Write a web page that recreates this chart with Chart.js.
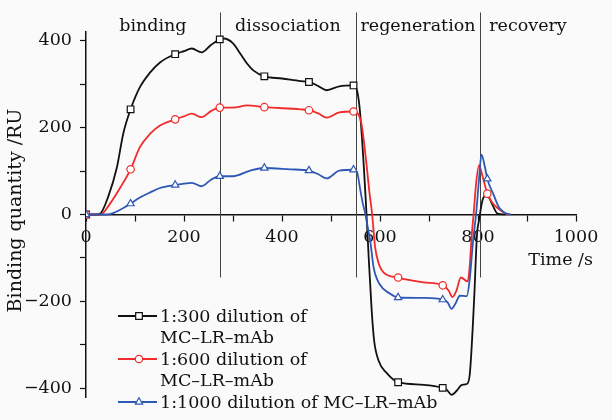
<!DOCTYPE html>
<html><head><meta charset="utf-8">
<script src="https://cdn.jsdelivr.net/npm/chart.js@4.4.1/dist/chart.umd.min.js"></script>
<style>html,body{margin:0;padding:0;background:#fafafa;}#wrap{width:612px;height:420px;}</style>
</head><body><div id="wrap"><canvas id="c" width="612" height="420"></canvas></div>
<script>
// ---- data ----
const blackT = [0,20,29,45,63,76,91,110,131,151,182,200,216,236,255,273,281,300,315,329,342,364,400,438,455,475,491,517,546,552,558,563,567,571,577,583,588,597,613,637,689,728,736,746,757,767,777,783,792,798,802,809,816,822,830,840,855];
const blackV = [0,0,2,40,108,186,242,293,327,350,369,376,382,373,390,403,405,394,370,347,331,318,313,307,305,295,286,295,297,290,250,180,110,32,-100,-220,-290,-336,-364,-386,-392,-399,-403,-415,-405,-392,-390,-370,-198,-45,-14,32,44,40,21,2,0];
const redT = [0,29,49,70,91,110,131,151,182,200,216,236,255,273,300,329,364,438,455,475,491,517,546,556,562,568,573,578,584,590,598,607,637,689,728,740,748,756,765,779,783,787,791,796,802,810,819,830,843,855,865];
const redV = [0,0,25,62,104,155,186,205,219,226,232,224,238,246,246,251,247,242,240,232,223,235,237,230,210,160,110,55,0,-75,-115,-133,-145,-156,-163,-175,-190,-175,-145,-154,-120,-50,0,70,113,85,48,26,12,3,0];
const blueT = [0,40,49,63,91,110,131,151,182,200,216,236,255,273,300,335,364,417,455,475,491,517,546,553,560,565,570,575,580,587,599,620,637,689,728,738,746,754,763,777,783,790,796,802,807,814,819,832,843,855,867];
const blueV = [0,0,1,7,25,39,51,61,68,71,73,65,80,88,88,101,107,104,101,92,83,101,103,98,55,25,2,-30,-60,-122,-160,-182,-191,-192,-196,-202,-217,-205,-187,-188,-150,-60,0,80,138,110,82,45,16,4,0];
const markerTimes = [0,91,182,273,364,455,546,637,728,819];
const blackMarkerTimes = [0,91,182,273,364,455,546,637,728];
const seriesLabels = [['1:300 dilution of','MC\u2013LR\u2013mAb'],['1:600 dilution of','MC\u2013LR\u2013mAb'],['1:1000 dilution of MC\u2013LR\u2013mAb']];
const phaseNames = ['binding','dissociation','regeneration','recovery'];
const phaseBounds = [273,551,804];
const xTickValues = [0,100,200,300,400,500,600,700,800,900,1000];
const yTickValues = [-400,-300,-200,-100,0,100,200,300,400];
const yTitle = 'Binding quantity /RU';
const xTitle = 'Time /s';

const FONT = "'DejaVu Serif', serif";
const pts = (T,V) => T.map((t,i)=>({x:t,y:V[i]}));

function mkSet(label, T, V, color, style, r, mk, order){
  return {label, data: pts(T,V), borderColor: color, borderWidth: 1.8,
    pointStyle: style, pointBackgroundColor: '#ffffff', pointBorderColor: color,
    pointBorderWidth: 1.2, order,
    pointRadius: c => (c.raw && mk.includes(c.raw.x)) ? r : 0,
    pointHoverRadius: 0, cubicInterpolationMode: 'monotone', fill: false};
}

function drawMarker(ctx, style, x, y, r, color){
  ctx.save(); ctx.beginPath();
  if (style==='rect'){ const s=Math.SQRT1_2*r; ctx.rect(x-s,y-s,2*s,2*s); }
  else if (style==='circle'){ ctx.arc(x,y,r,0,Math.PI*2); }
  else { ctx.moveTo(x, y-r); ctx.lineTo(x+Math.sin(2*Math.PI/3)*r, y+r/2); ctx.lineTo(x-Math.sin(2*Math.PI/3)*r, y+r/2); ctx.closePath(); }
  ctx.fillStyle='#fff'; ctx.fill(); ctx.lineWidth=1.2; ctx.strokeStyle=color; ctx.stroke(); ctx.restore();
}

const overlay = {
  id:'overlay',
  beforeDatasetsDraw(chart){
    const {ctx} = chart, xs = chart.scales.x, ys = chart.scales.y;
    ctx.save(); ctx.strokeStyle='#444'; ctx.lineWidth=1;
    phaseBounds.forEach(t=>{ const px=Math.round(xs.getPixelForValue(t))+0.5;
      ctx.beginPath(); ctx.moveTo(px, ys.getPixelForValue(465)); ctx.lineTo(px, ys.getPixelForValue(-145)); ctx.stroke(); });
    ctx.restore();
  },
  afterDraw(chart){
    const {ctx, chartArea} = chart, xs = chart.scales.x, ys = chart.scales.y;
    ctx.save();
    ctx.fillStyle='#111'; ctx.font = "17.5px "+FONT; ctx.textAlign='center'; ctx.textBaseline='alphabetic';
    const b=[xs.min].concat(phaseBounds).concat([xs.max]);
    phaseNames.forEach((n,i)=>{ ctx.fillText(n, xs.getPixelForValue((b[i]+b[i+1])/2), 31); });
    // x title
    ctx.textAlign='right'; ctx.textBaseline='middle';
    ctx.fillText(xTitle, chartArea.right+17, ys.getPixelForValue(0)+46);
    // y title
    ctx.save(); ctx.translate(16, (chartArea.top+chartArea.bottom)/2 - 4); ctx.rotate(-Math.PI/2);
    ctx.font = "19px "+FONT; ctx.textAlign='center'; ctx.textBaseline='middle'; ctx.fillText(yTitle,0,0); ctx.restore();
    // legend
    const L = chartArea.left + 32; let y = chartArea.bottom - 81; const lh = 21.5;
    ctx.font = "17.5px "+FONT; ctx.textAlign='left'; ctx.textBaseline='middle';
    chart.data.datasets.forEach((ds,i)=>{
      ctx.strokeStyle=ds.borderColor; ctx.lineWidth=ds.borderWidth;
      ctx.beginPath(); ctx.moveTo(L,y); ctx.lineTo(L+39,y); ctx.stroke();
      drawMarker(ctx, ds.pointStyle, L+21, y, ds.pointStyle==='rect'?4.7:(ds.pointStyle==='circle'?3.7:4.2), ds.borderColor);
      ctx.fillStyle='#111';
      seriesLabels[i].forEach((t,j)=>ctx.fillText(t, L+42, y+j*lh+1));
      y += seriesLabels[i].length*lh;
    });
    ctx.restore();
  }
};

new Chart(document.getElementById('c'), {
  type:'line',
  data:{datasets:[
    mkSet(seriesLabels[0].join(' '), blackT, blackV, '#111111', 'rect', 4.7, blackMarkerTimes, 3),
    mkSet(seriesLabels[1].join(' '), redT, redV, '#f22a2a', 'circle', 3.7, markerTimes, 2),
    mkSet(seriesLabels[2].join(' '), blueT, blueV, '#2f58b5', 'triangle', 4.2, markerTimes, 1)
  ]},
  options:{
    responsive:false, devicePixelRatio:1, animation:false,
    layout:{padding:{left:0,right:36,top:32,bottom:23}},
    plugins:{legend:{display:false}, tooltip:{enabled:false}},
    scales:{
      x:{type:'linear', min:0, max:1000, position:{y:0},
        afterBuildTicks: s=>{ s.ticks = xTickValues.map(v=>({value:v})); },
        ticks:{autoSkip:false, maxRotation:0, padding:6, color:'#111', font:{family:FONT,size:17.5},
          callback: v => v%200===0 ? String(v) : ''},
        grid:{drawOnChartArea:false, drawTicks:true, tickLength:6, color:'#111', tickWidth:1.2},
        border:{display:true, color:'#111', width:1.5}},
      y:{type:'linear', min:-420, max:420, position:'left',
        afterFit: s=>{ s.width = 86; },
        afterBuildTicks: s=>{ s.ticks = yTickValues.map(v=>({value:v})); },
        ticks:{autoSkip:false, padding:8, color:'#111', font:{family:FONT,size:17.5},
          callback: v => v%200===0 ? (v<0 ? '\u2212'+Math.abs(v) : String(v)) : ''},
        grid:{drawOnChartArea:false, drawTicks:true, tickLength:6, color:'#111', tickWidth:1.2},
        border:{display:true, color:'#111', width:1.5}}
    }
  },
  plugins:[overlay]
});
</script></body></html>
